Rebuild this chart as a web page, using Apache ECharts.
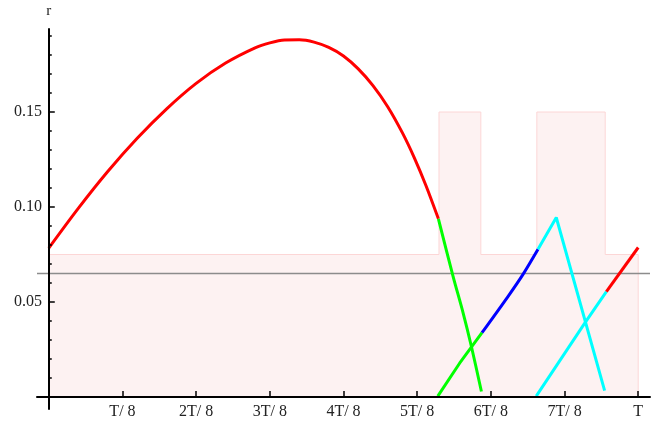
<!DOCTYPE html>
<html>
<head>
<meta charset="utf-8">
<script src="https://cdn.jsdelivr.net/npm/echarts@6/dist/echarts.min.js"></script>
<style>
  html, body { margin: 0; padding: 0; background: #fff; }
  #chart { width: 660px; height: 424px; }
</style>
</head>
<body>
<div id="chart"></div>
<script>
// x is measured in periods (T = 1), y is the rate r.
var xTickValues = [0.125, 0.25, 0.375, 0.5, 0.625, 0.75, 0.875, 1];
var xTickLabels = ['T/ 8', '2T/ 8', '3T/ 8', '4T/ 8', '5T/ 8', '6T/ 8', '7T/ 8', 'T'];
var yMajorTicks = [0.05, 0.10, 0.15];
var yMinorTicks = [0.01, 0.02, 0.03, 0.04, 0.06, 0.07, 0.08, 0.09,
                   0.11, 0.12, 0.13, 0.14, 0.16, 0.17, 0.18, 0.19];

// Stepped band (shaded envelope)
var bandX = [0, 0, 0.662, 0.662, 0.733, 0.733, 0.828, 0.828, 0.944, 0.944, 1, 1];
var bandY = [0, 0.075, 0.075, 0.15, 0.15, 0.075, 0.075, 0.15, 0.15, 0.075, 0.075, 0];

// Constant reference level
var levelX = [-0.02, 1.02];
var levelY = [0.065, 0.065];

// Main red arc
var arcX = [0, 0.05, 0.10, 0.15, 0.20, 0.25, 0.30, 0.35, 0.375, 0.40, 0.425,
            0.45, 0.475, 0.50, 0.525, 0.55, 0.575, 0.60, 0.62, 0.64, 0.661];
var arcY = [0.0784, 0.0993, 0.1187, 0.1362, 0.1517, 0.1651, 0.1758, 0.1838, 0.1864, 0.1879, 0.1880,
            0.1868, 0.1840, 0.1795, 0.1727, 0.1639, 0.1528, 0.1390, 0.1260, 0.1112, 0.0938];

// Green falling branch
var greenDownX = [0.661, 0.686, 0.703, 0.717, 0.734];
var greenDownY = [0.0938, 0.0634, 0.0442, 0.0266, 0.0029];

// Green rising branch
var greenUpX = [0.660, 0.697, 0.735];
var greenUpY = [0.0005, 0.0178, 0.0339];

// Blue rising branch
var blueX = [0.735, 0.779, 0.804, 0.830];
var blueY = [0.0339, 0.0529, 0.0643, 0.0778];

// Cyan peak
var cyanPeakX = [0.830, 0.861, 0.943];
var cyanPeakY = [0.0778, 0.0945, 0.0034];

// Cyan rising branch
var cyanUpX = [0.827, 0.909, 0.946];
var cyanUpY = [0.0005, 0.0388, 0.0555];

// Red closing segment
var redEndX = [0.946, 1.0];
var redEndY = [0.0555, 0.0787];

function pairs(xs, ys) {
  return xs.map(function (x, i) { return [x, ys[i]]; });
}

var serif = 'Liberation Serif';
var textColor = '#222';

function curve(name, xs, ys, color, smooth) {
  return {
    name: name,
    type: 'line',
    data: pairs(xs, ys),
    showSymbol: false,
    symbol: 'none',
    smooth: smooth || false,
    lineStyle: { color: color, width: 3 },
    z: 3,
    silent: true
  };
}

var chart = echarts.init(document.getElementById('chart'), null, { renderer: 'canvas' });

chart.setOption({
  animation: false,
  backgroundColor: '#ffffff',
  grid: { left: 37, right: 10, top: 29, bottom: 15, containLabel: false, outerBoundsMode: 'none' },
  xAxis: [{
    type: 'value',
    min: -0.02,
    max: 1.02,
    z: 5,
    axisLine: { show: true, onZero: true, onZeroAxisIndex: 0, lineStyle: { color: '#000', width: 2 } },
    axisTick: { show: true, inside: true, length: 6, customValues: xTickValues,
                lineStyle: { color: '#000', width: 1.5 } },
    axisLabel: {
      show: true, customValues: xTickValues, margin: -5,
      fontFamily: serif, fontSize: 16, color: textColor,
      formatter: function (v) { return xTickLabels[Math.round(v * 8) - 1]; }
    },
    splitLine: { show: false }
  }],
  yAxis: [{
    type: 'value',
    min: -0.0063,
    max: 0.1937,
    z: 5,
    name: 'r',
    nameLocation: 'end',
    nameGap: 10,
    nameTextStyle: { fontFamily: serif, fontSize: 15, color: textColor },
    axisLine: { show: true, onZero: true, onZeroAxisIndex: 0, lineStyle: { color: '#000', width: 2 } },
    axisTick: { show: true, inside: true, length: 6, customValues: yMajorTicks,
                lineStyle: { color: '#000', width: 1.5 } },
    axisLabel: {
      show: true, customValues: yMajorTicks, margin: -5,
      fontFamily: serif, fontSize: 16, color: textColor,
      formatter: function (v) { return v.toFixed(2); }
    },
    splitLine: { show: false }
  }, {
    type: 'value',
    min: -0.0063,
    max: 0.1937,
    z: 5,
    position: 'left',
    axisLine: { show: false, onZero: true, onZeroAxisIndex: 0 },
    axisTick: { show: true, inside: true, length: 3, customValues: yMinorTicks,
                lineStyle: { color: '#000', width: 1.5 } },
    axisLabel: { show: false },
    splitLine: { show: false }
  }],
  series: [
    {
      name: 'band',
      type: 'line',
      data: pairs(bandX, bandY),
      showSymbol: false,
      symbol: 'none',
      lineStyle: { color: '#fcd6d6', width: 1 },
      areaStyle: { color: '#fdf2f2', opacity: 1, origin: 'auto' },
      z: 1,
      silent: true
    },
    {
      name: 'level',
      type: 'line',
      data: pairs(levelX, levelY),
      showSymbol: false,
      symbol: 'none',
      lineStyle: { color: '#8c8c8c', width: 1.5 },
      z: 2,
      silent: true
    },
    curve('arc', arcX, arcY, '#ff0000', 0.3),
    curve('greenDown', greenDownX, greenDownY, '#00ff00', 0.3),
    curve('greenUp', greenUpX, greenUpY, '#00ff00'),
    curve('blue', blueX, blueY, '#0000ff', 0.3),
    curve('cyanPeak', cyanPeakX, cyanPeakY, '#00ffff'),
    curve('cyanUp', cyanUpX, cyanUpY, '#00ffff'),
    curve('redEnd', redEndX, redEndY, '#ff0000')
  ]
});
</script>
</body>
</html>
